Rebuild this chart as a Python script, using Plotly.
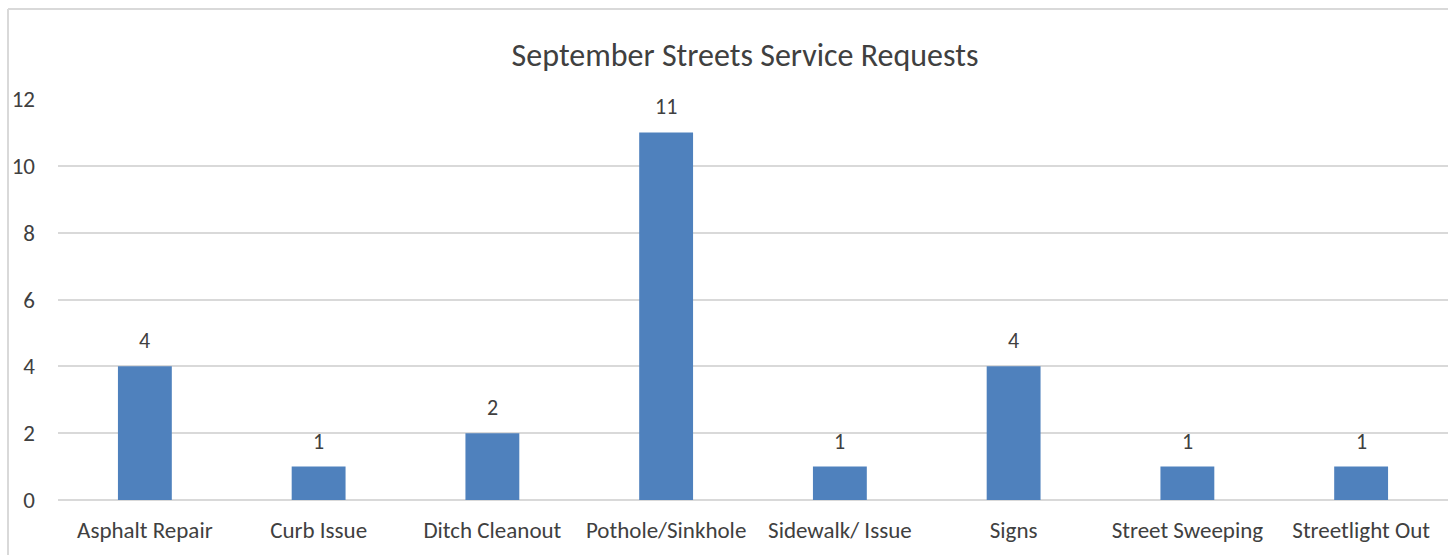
import plotly.graph_objects as go

categories = ["Asphalt Repair", "Curb Issue", "Ditch Cleanout", "Pothole/Sinkhole",
              "Sidewalk/ Issue", "Signs", "Street Sweeping", "Streetlight Out"]
values = [4, 1, 2, 11, 1, 4, 1, 1]
y_ticks = [0, 2, 4, 6, 8, 10, 12]

W, H = 1448, 555
L, R, T, B = 58, 0, 99, 55
pw, ph = W - L - R, H - T - B

font_family = "Carlito, Calibri, 'Open Sans', sans-serif"

fig = go.Figure()
fig.add_trace(go.Bar(
    x=categories, y=values,
    marker=dict(color="#4F81BD", line=dict(width=0)),
    width=0.31,
    hoverinfo="x+y",
))

for c, v in zip(categories, values):
    fig.add_annotation(x=c, y=v, text=str(v), showarrow=False,
                       yanchor="bottom", yshift=10,
                       font=dict(family=font_family, size=22, color="#404040"))

# chart border (partially cropped)
x0 = (8 - L) / pw
y_top = (H - B - 9) / ph
fig.add_shape(type="line", xref="paper", yref="paper", x0=x0, x1=x0, y0=-1, y1=y_top,
              line=dict(color="#D9D9D9", width=2))
fig.add_shape(type="line", xref="paper", yref="paper", x0=x0, x1=1.2, y0=y_top, y1=y_top,
              line=dict(color="#D9D9D9", width=2))

fig.update_layout(
    width=W, height=H,
    margin=dict(l=L, r=R, t=T, b=B, pad=0),
    paper_bgcolor="white", plot_bgcolor="white",
    showlegend=False,
    title=dict(text="September Streets Service Requests", x=(745 - L) / pw, xref="paper",
               xanchor="center", y=1 - 55 / H, yanchor="middle",
               font=dict(family=font_family, size=32, color="#404040")),
    font=dict(family=font_family, color="#595959"),
    bargap=0.69,
)
fig.update_xaxes(showgrid=False, showline=False, ticks="", zeroline=False,
                 tickfont=dict(family=font_family, size=23, color="#404040"),
                 ticklabelstandoff=14)
fig.update_yaxes(range=[0, 12], tickvals=y_ticks, showgrid=True, gridcolor="#D9D9D9",
                 gridwidth=1.5, zeroline=True, zerolinecolor="#D9D9D9", zerolinewidth=1.5,
                 showline=False, ticks="",
                 tickfont=dict(family=font_family, size=23, color="#404040"),
                 ticklabelstandoff=22)

fig.write_html("out.html", config={"displayModeBar": False},
               post_script="document.body.style.margin='0px';")
